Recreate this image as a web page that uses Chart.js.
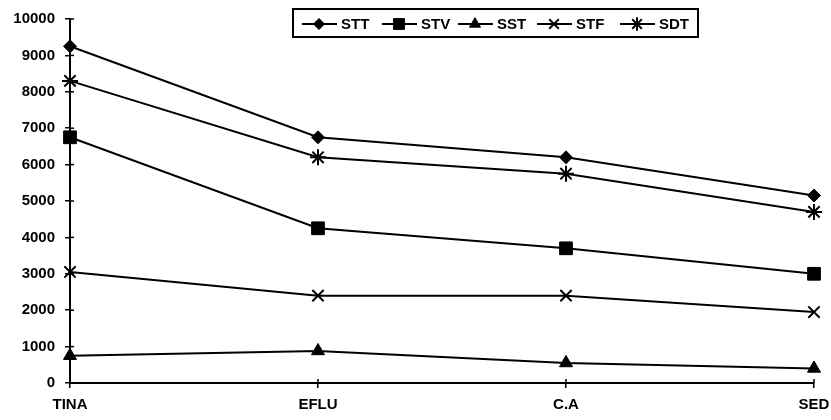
<!DOCTYPE html>
<html>
<head>
<meta charset="utf-8">
<script src="https://cdn.jsdelivr.net/npm/chart.js@4/dist/chart.umd.min.js"></script>
<style>
    html, body { margin: 0; padding: 0; background: #fff; }
    #wrap { width: 831px; height: 420px; position: relative; }
</style>
</head>
<body>
<div id="wrap"><canvas id="lineChart"></canvas></div>
<script>
// Data
const categories = ['TINA', 'EFLU', 'C.A', 'SED'];
const sttValues = [9250, 6750, 6200, 5150];
const stvValues = [6750, 4250, 3700, 3000];
const sstValues = [750, 880, 550, 400];
const stfValues = [3050, 2400, 2400, 1950];
const sdtValues = [8300, 6200, 5750, 4700];
const yTicks = [0, 1000, 2000, 3000, 4000, 5000, 6000, 7000, 8000, 9000, 10000];

const FONT = "'Liberation Sans', Arial, sans-serif";

function series(label, data, style, radius, width) {
    return {
        label: label,
        data: data,
        borderColor: '#000',
        backgroundColor: '#000',
        borderWidth: 2,
        tension: 0,
        pointStyle: style,
        pointRadius: radius,
        pointHoverRadius: radius,
        pointBorderWidth: width,
        pointBackgroundColor: '#000',
        pointBorderColor: '#000',
        clip: false
    };
}

const datasets = [
    series('STT', sttValues, 'rectRot', 6.5, 1),
    series('STV', stvValues, 'rect', 9, 1),
    series('SST', sstValues, 'triangle', 7.5, 1),
    series('STF', stfValues, 'crossRot', 8, 2),
    series('SDT', sdtValues, 'star', 8, 2)
];

// boxed legend: line - marker - line, then the name
const boxLegend = {
    id: 'boxLegend',
    afterDraw(chart) {
        const ctx = chart.ctx;
        ctx.save();
        ctx.strokeStyle = '#000';
        ctx.lineWidth = 2;
        ctx.strokeRect(293, 9, 405, 28);
        ctx.font = 'bold 15px ' + FONT;
        ctx.textBaseline = 'middle';
        ctx.fillStyle = '#000';
        const startX = [302, 382, 458, 537, 620];
        const y = 24;
        chart.data.datasets.forEach((ds, i) => {
            const x0 = startX[i];
            ctx.lineWidth = 2;
            ctx.beginPath();
            ctx.moveTo(x0, y);
            ctx.lineTo(x0 + 35, y);
            ctx.stroke();
            ctx.lineWidth = ds.pointBorderWidth;
            Chart.helpers.drawPoint(ctx, {
                pointStyle: ds.pointStyle,
                radius: ds.pointRadius * 0.85,
                rotation: 0,
                borderWidth: ds.pointBorderWidth
            }, x0 + 17, y);
            ctx.fillText(ds.label, x0 + 39, y + 1);
        });
        ctx.restore();
    }
};

// tick marks that cross the axis line
const innerTicks = {
    id: 'innerTicks',
    afterDraw(chart) {
        const ctx = chart.ctx;
        const area = chart.chartArea;
        ctx.save();
        ctx.strokeStyle = '#000';
        ctx.lineWidth = 1.5;
        const ys = chart.scales.y;
        ys.ticks.forEach((t, i) => {
            const py = ys.getPixelForTick(i);
            ctx.beginPath();
            ctx.moveTo(area.left, py);
            ctx.lineTo(area.left + 4, py);
            ctx.stroke();
        });
        const xs = chart.scales.x;
        xs.ticks.forEach((t, i) => {
            const px = xs.getPixelForTick(i);
            ctx.beginPath();
            ctx.moveTo(px, area.bottom);
            ctx.lineTo(px, area.bottom - 4);
            ctx.stroke();
        });
        ctx.restore();
    }
};

const ctx = document.getElementById('lineChart').getContext('2d');
new Chart(ctx, {
    type: 'line',
    data: {
        labels: categories,
        datasets: datasets
    },
    options: {
        responsive: true,
        maintainAspectRatio: false,
        animation: false,
        layout: { padding: { top: 16, right: 17, left: 0, bottom: 0 } },
        plugins: {
            legend: { display: false },
            tooltip: { enabled: false }
        },
        scales: {
            x: {
                offset: false,
                grid: { display: true, drawOnChartArea: false, drawTicks: true, tickLength: 5, color: '#000', lineWidth: 1.5 },
                border: { display: true, color: '#000', width: 2 },
                ticks: { color: '#000', font: { family: FONT, size: 15, weight: 'bold' }, padding: 8, maxRotation: 0 },
                afterFit(scale) {
                    scale.height = 37;
                    scale.paddingLeft = 0;
                    scale.paddingRight = 0;
                }
            },
            y: {
                min: 0,
                max: 10000,
                afterBuildTicks(scale) { scale.ticks = yTicks.map(v => ({ value: v })); },
                grid: { display: true, drawOnChartArea: false, drawTicks: true, tickLength: 5, color: '#000', lineWidth: 1.5 },
                border: { display: true, color: '#000', width: 2 },
                ticks: {
                    color: '#000',
                    font: { family: FONT, size: 15, weight: 'bold' },
                    padding: 10,
                    callback: v => String(v)
                },
                afterFit(scale) { scale.width = 70; }
            }
        }
    },
    plugins: [boxLegend, innerTicks]
});
</script>
</body>
</html>
